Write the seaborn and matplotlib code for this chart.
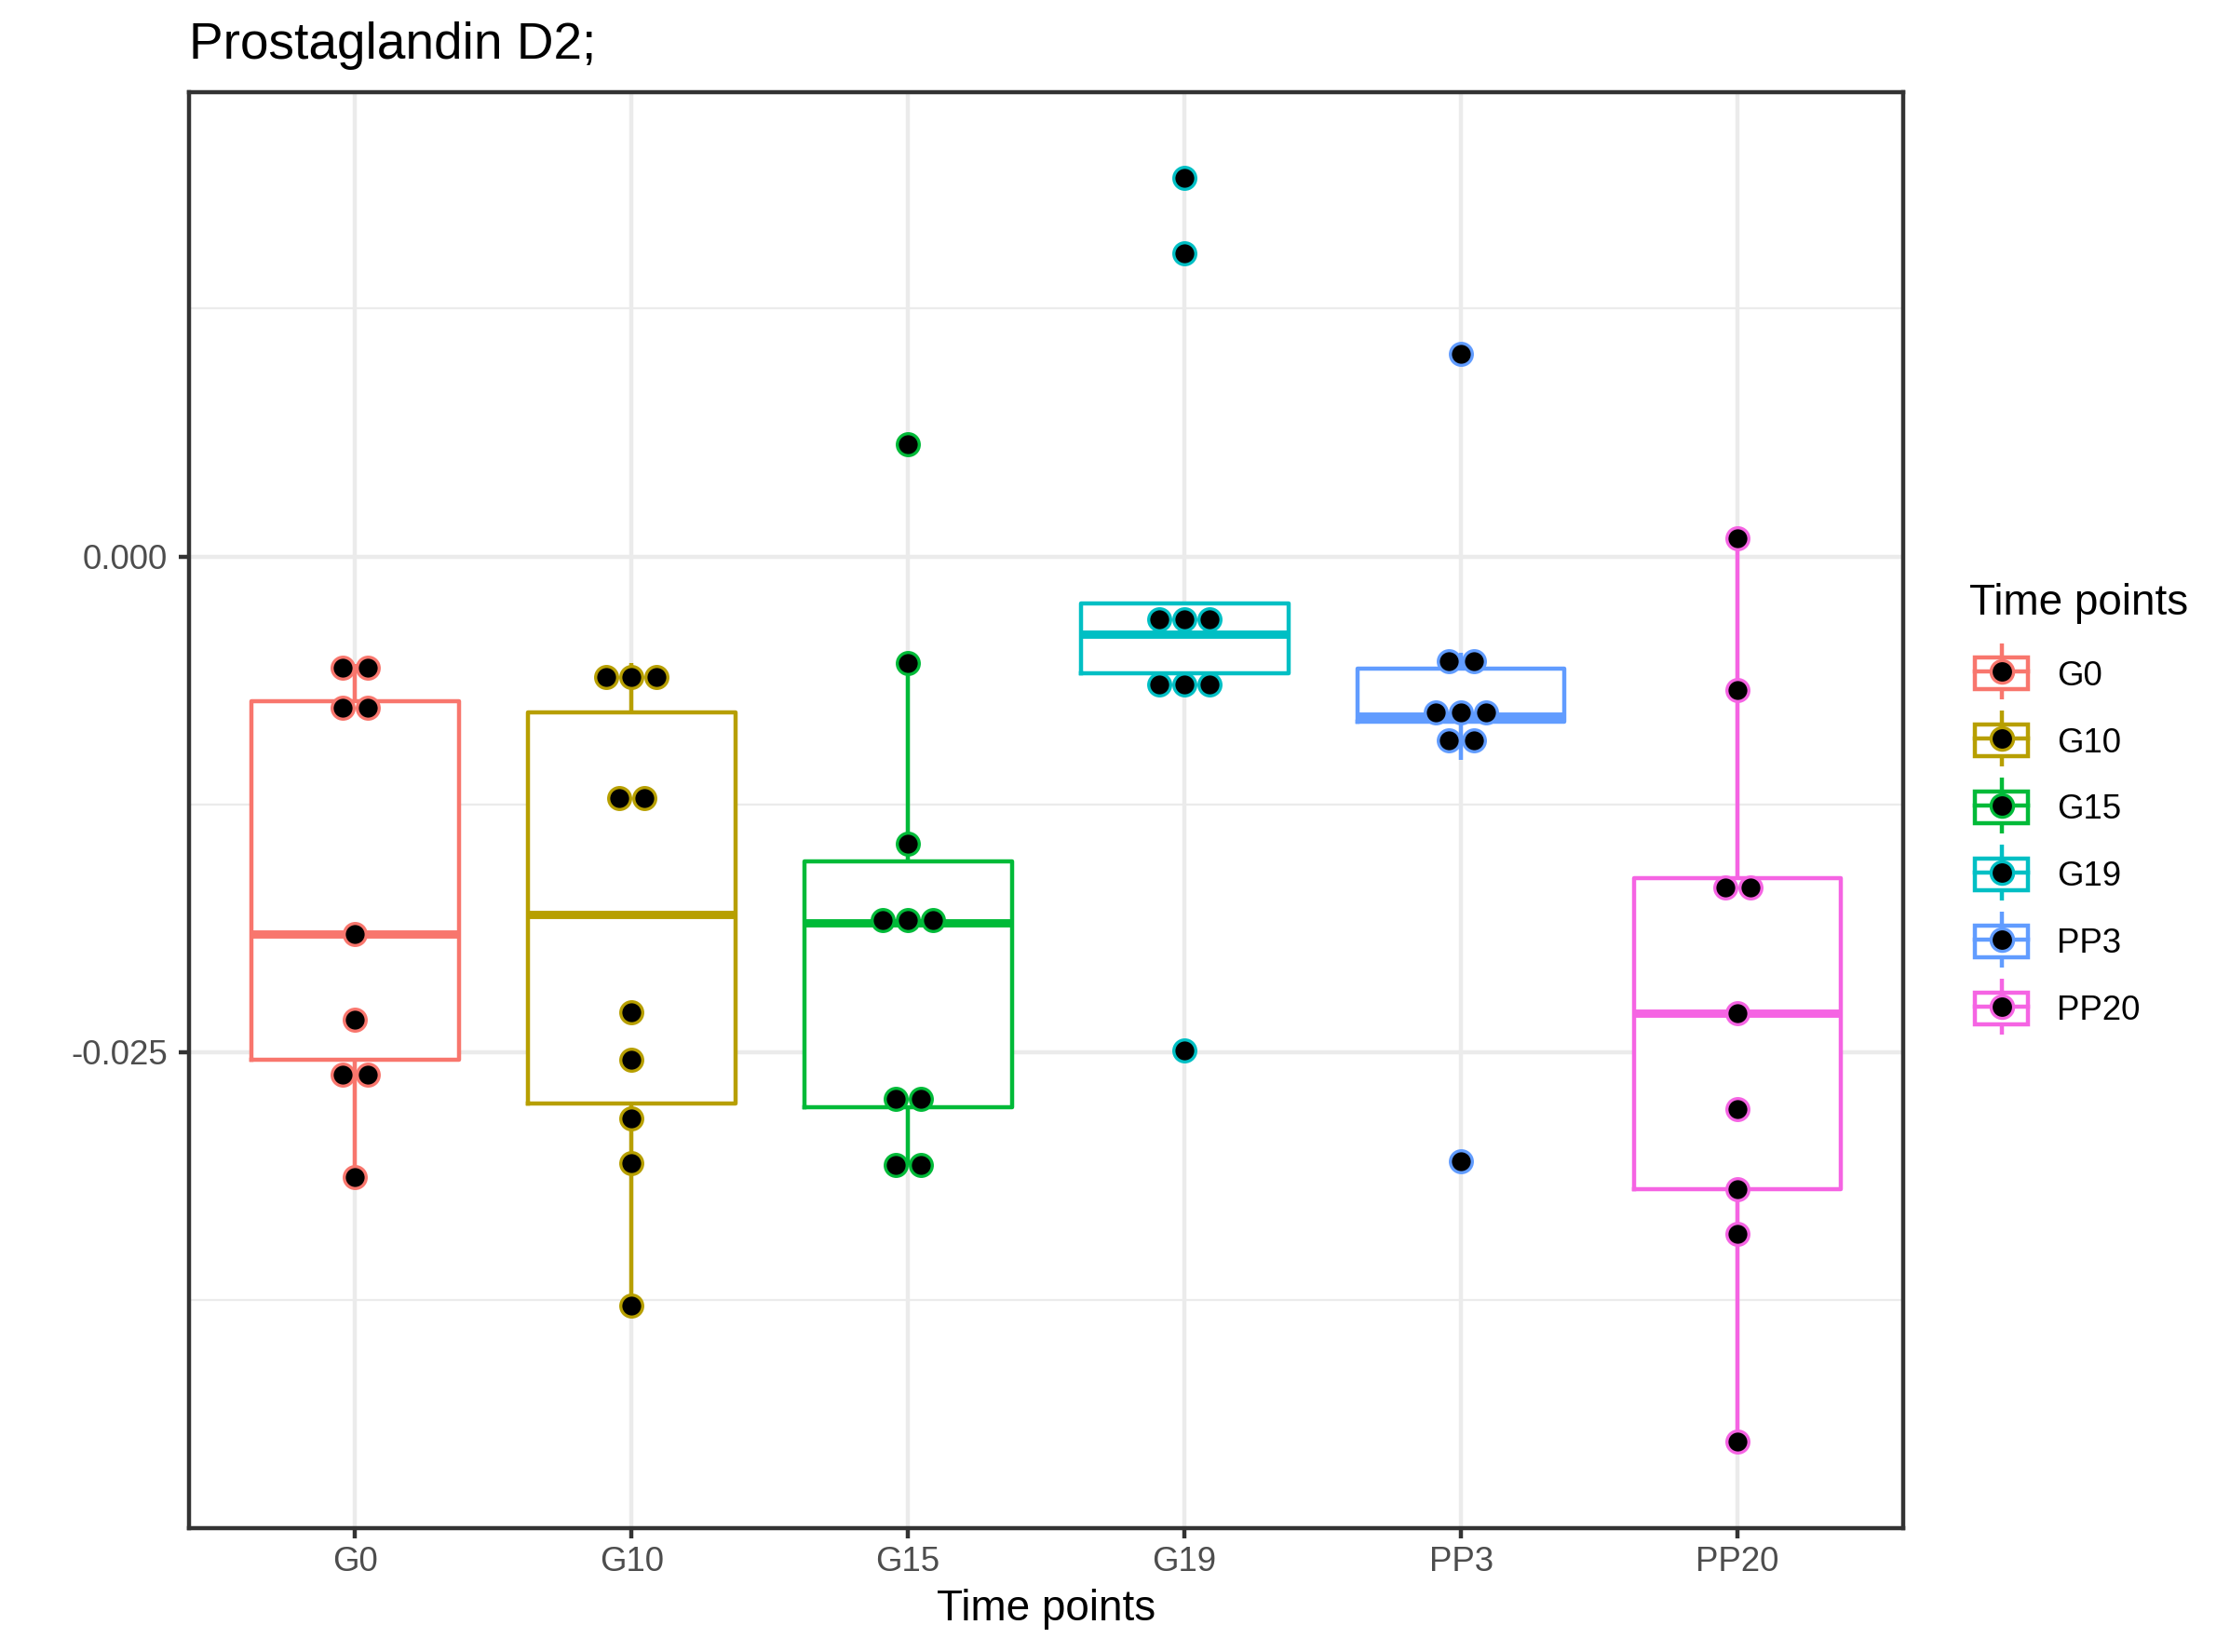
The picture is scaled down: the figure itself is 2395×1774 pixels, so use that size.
import numpy as np
import pandas as pd
import matplotlib
matplotlib.use('Agg')
import matplotlib.pyplot as plt
import seaborn as sns
from matplotlib.lines import Line2D
from matplotlib.patches import Patch
from matplotlib.legend_handler import HandlerTuple
from matplotlib.ticker import MultipleLocator, FormatStrFormatter

# 데이터
time_points = ['G0', 'G10', 'G15', 'G19', 'PP3', 'PP20']
palette = ['#F8766D', '#B79F00', '#00BA38', '#00BFC4', '#619CFF', '#F564E3']

g0 = [-0.03131, -0.02690, -0.02538, -0.02338, -0.01902, -0.00795, -0.00731, -0.00575, -0.00543]
g10 = [-0.03776, -0.03058, -0.02835, -0.02538, -0.02299, -0.01315, -0.01117, -0.00678, -0.00607, -0.00536]
g15 = [-0.03068, -0.03068, -0.02821, -0.02649, -0.01860, -0.01832, -0.01804, -0.01448, -0.00538, 0.00567]
g19 = [-0.02493, -0.00698, -0.00590, -0.00590, -0.00393, -0.00320, -0.00239, 0.01528, 0.01908]
pp3 = [-0.03049, -0.01025, -0.00831, -0.00805, -0.00803, -0.00771, -0.00565, -0.00487, 0.01022]
pp20 = [-0.04463, -0.03415, -0.03190, -0.02788, -0.02302, -0.01716, -0.01624, -0.00673, 0.00094]

groups = [g0, g10, g15, g19, pp3, pp20]

plt.rcParams['font.family'] = ['Liberation Sans', 'DejaVu Sans']
plt.rcParams['axes.unicode_minus'] = False

df = pd.DataFrame({
    'Time points': np.repeat(time_points, [len(g) for g in groups]),
    'value': np.concatenate(groups),
})

# 도트플롯 구간 (dotdensity 방식, binwidth = 전체 범위 / 30)
all_vals = df['value'].values
binwidth = (all_vals.max() - all_vals.min()) / 30


def dot_positions(values, xc, width, step):
    vals = np.sort(values)
    bins = []
    end = -np.inf
    for v in vals:
        if v >= end:
            bins.append([v])
            end = v + width
        else:
            bins[-1].append(v)
    xs, ys = [], []
    for b in bins:
        center = (min(b) + max(b)) / 2
        n = len(b)
        for k in range(n):
            xs.append(xc + (k - (n - 1) / 2) * step)
            ys.append(center)
    return xs, ys


lw = 1.07
fig = plt.figure(figsize=(2395 / 300, 1774 / 300), dpi=300, facecolor='white')
ax = fig.add_axes([203 / 2395, 1 - 1640.7 / 1774, (2044.3 - 203) / 2395, (1640.7 - 98.5) / 1774])

# 흰색 박스 (격자선 가림)
sns.boxplot(data=df, x='Time points', y='value', order=time_points, color='white',
            width=0.75, linewidth=0, showfliers=False, saturation=1, ax=ax)
# 색상 박스 테두리
sns.boxplot(data=df, x='Time points', y='value', order=time_points, hue='Time points',
            hue_order=time_points, palette=palette, fill=False, width=0.75, linewidth=lw,
            showfliers=False, saturation=1, legend=False, ax=ax,
            medianprops={'linewidth': 2.13}, capprops={'visible': False})

# 점 (검정 채움, 그룹 색 테두리)
for i, (tp, g) in enumerate(zip(time_points, groups)):
    xs, ys = dot_positions(g, i, binwidth, 0.0913)
    ax.scatter(xs, ys, s=32, facecolor='black', edgecolor=palette[i], linewidths=0.8, zorder=4)

lo = all_vals.min() - binwidth / 2
hi = all_vals.max() + binwidth / 2
span = hi - lo
ax.set_ylim(lo - 0.05 * span, hi + 0.05 * span)
ax.set_xlim(-0.6, len(time_points) - 0.4)

ax.yaxis.set_major_locator(MultipleLocator(0.025))
ax.yaxis.set_minor_locator(MultipleLocator(0.0125))
ax.yaxis.set_major_formatter(FormatStrFormatter('%.3f'))
ax.set_axisbelow(True)
ax.grid(which='major', color='#EBEBEB', linewidth=lw)
ax.grid(which='minor', axis='y', color='#EBEBEB', linewidth=lw / 2)
for s in ax.spines.values():
    s.set_color('#333333')
    s.set_linewidth(lw)
ax.tick_params(which='major', length=2.75, width=lw, color='#333333', labelcolor='#4D4D4D', labelsize=8.8)
ax.tick_params(which='minor', length=0)
ax.tick_params(axis='x', pad=2.0)
ax.tick_params(axis='y', pad=2.7)

ax.set_ylabel('')
ax.set_xlabel('Time points', fontsize=11, color='black')
ax.xaxis.label.set_va('baseline')
ax.xaxis.set_label_coords(0.5, -(1740 - 1640.7) / 1542.2)

fig.text(203 / 2395, 1 - 63 / 1774, 'Prostaglandin D2;', fontsize=13.2, ha='left', va='baseline')

# 범례
fig.text(2115 / 2395, 1 - 660 / 1774, 'Time points', fontsize=11, ha='left', va='baseline')
handles = []
for c in palette:
    handles.append((
        Line2D([], [], marker='|', markersize=14.6, mew=lw, color=c, linestyle='none'),
        Patch(facecolor='white', edgecolor=c, linewidth=lw),
        Line2D([], [], color=c, linewidth=lw),
        Line2D([], [], marker='o', markersize=5.8, markerfacecolor='black', markeredgecolor=c,
               markeredgewidth=0.8, linestyle='none'),
    ))
fig.legend(handles, time_points, loc='upper left',
           bbox_to_anchor=(2121 / 2395, 1 - 706 / 1774), frameon=False,
           handler_map={tuple: HandlerTuple(ndivide=1, pad=0)},
           fontsize=8.8, handlelength=1.56, handleheight=1.05, handletextpad=0.85,
           labelspacing=0.94, borderpad=0, borderaxespad=0)

fig.savefig('out.png', dpi=300)
